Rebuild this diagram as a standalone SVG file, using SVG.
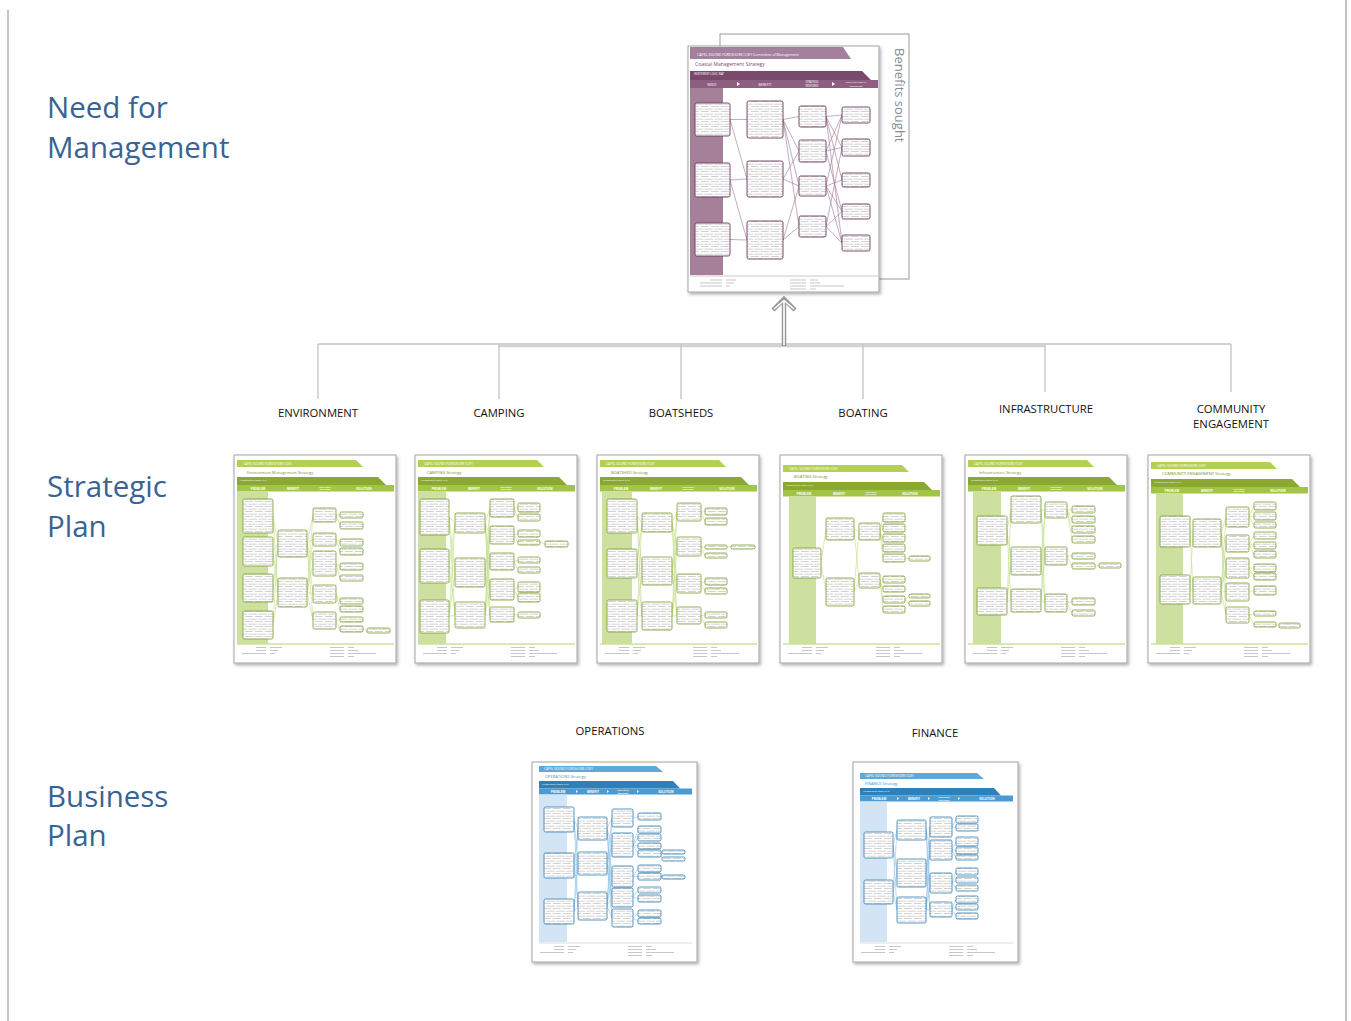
<svg xmlns="http://www.w3.org/2000/svg" width="1351" height="1021" viewBox="0 0 1351 1021">
<defs>
<style>
.sec{font-family:"Open Sans","Noto Sans",sans-serif;font-size:29.5px;fill:#386394}
.lbl{font-family:"Open Sans","Noto Sans",sans-serif;font-size:11.3px;fill:#111;text-anchor:middle}
.f{font-family:"Open Sans","Liberation Sans",sans-serif}
.pg{fill:#fff;stroke:#a3a3a3;stroke-width:1;filter:url(#sh)}
.th{font-size:3.2px;fill:#fff}
.tt{font-size:2.3px;fill:#fff}
.hd{font-size:3px;fill:#fff;font-weight:bold;text-anchor:middle}
.hs{font-size:2.2px;fill:#fff;font-weight:bold;text-anchor:middle}
.ft{fill:none;stroke:#a0a0a0;stroke-width:0.6}
.gb1{fill:#b3cf55}.gb2{fill:#8aa832}.gh{fill:#a2c545}.gc{fill:#cde0a0}
.gttl{font-size:4px;fill:#6f8f23}
.gbox rect{fill:url(#gk);stroke:#7c9c2c;stroke-width:0.8;rx:1.5px}
.gl{fill:none;stroke:#c3dd86;stroke-width:0.6}
.bb1{fill:#5ea9da}.bb2{fill:#2f7fb8}.bh{fill:#4a9bd2}.bc{fill:#d3e5f5}
.bttl{font-size:4px;fill:#3a8fcc}
.bbox rect{fill:url(#gk);stroke:#2f7db5;stroke-width:0.8;rx:1.5px}
.bl{fill:none;stroke:#93c6ea;stroke-width:0.6}
.pbox rect{fill:url(#gk);stroke:#6b3a5d;stroke-width:0.9;rx:1.8px}
.pl{fill:none;stroke:#9a7590;stroke-width:0.6}
</style>
<filter id="sh" x="-10%" y="-10%" width="130%" height="130%"><feDropShadow dx="1.5" dy="2" stdDeviation="1.5" flood-color="#000" flood-opacity="0.3"/></filter>
<pattern id="gk" width="10" height="5" patternUnits="userSpaceOnUse"><rect width="10" height="5" fill="#fff"/><rect x="0.8" y="1.3" width="8" height="0.6" fill="#b4b4b4"/><rect x="0" y="3.8" width="3.2" height="0.6" fill="#b4b4b4"/><rect x="4.3" y="3.8" width="5.7" height="0.6" fill="#b4b4b4"/></pattern>
<g id="hdrG" class="f">
<path class="gb1" d="M3 5H122L129 12H3Z"/>
<text class="th" x="9" y="10.3">CAPEL SOUND FORESHORE (CSF)</text>
<path class="gb2" d="M3 22H144L152 30H3Z"/>
<text class="tt" x="6" y="25.5">INVESTMENT LOGIC MAP</text>
<rect class="gh" x="3" y="30" width="157" height="6.5"/>
<text class="hd" x="24" y="34.6">PROBLEM</text>
<text class="hd" x="59" y="34.6">BENEFIT</text>
<text class="hs" x="91" y="32.6">STRATEGIC</text>
<text class="hs" x="91" y="35.4">RESPONSE</text>
<text class="hd" x="130" y="34.6">SOLUTION</text>
</g>
<g id="pageG">
<rect class="pg" x="0" y="0" width="162" height="208"/>
<line x1="3" y1="189" x2="160" y2="189" stroke="#a2c545" stroke-width="0.8"/>
<path class="ft" d="M22 192.5h10M36 192.5h12M22 195.5h10M36 195.5h8M8 198.5h24M36 198.5h5M96 192.5h14M114 192.5h6M96 195.5h14M114 195.5h10M96 198.5h14M114 198.5h28M96 201.5h14M114 201.5h6"/>
</g>
<g id="hdrB" class="f">
<path class="bb1" d="M7 4H124L131 10H7Z"/>
<text class="th" x="12" y="8.3">CAPEL SOUND FORESHORE (CSF)</text>
<path class="bb2" d="M7 19H141L148 26.5H7Z"/>
<text class="tt" x="10" y="22.5">INVESTMENT LOGIC MAP</text>
<rect class="bh" x="7" y="26.5" width="153" height="6"/>
<text class="hd" x="26" y="30.8">PROBLEM</text>
<text class="hd" x="61" y="30.8">BENEFIT</text>
<text class="hs" x="91" y="29">STRATEGIC</text>
<text class="hs" x="91" y="31.8">RESPONSE</text>
<text class="hd" x="134" y="30.8">SOLUTION</text>
<path fill="#fff" d="M44 28L46 29.5L44 31ZM75 28L77 29.5L75 31ZM105 28L107 29.5L105 31Z"/>
</g>
<g id="pageB">
<rect class="pg" x="0" y="0" width="165" height="200"/>
<line x1="7" y1="181" x2="160" y2="181" stroke="#c8c8c8" stroke-width="0.6"/>
<path class="ft" d="M22 184.5h10M36 184.5h12M22 187.5h10M36 187.5h8M8 190.5h24M36 190.5h5M96 184.5h14M114 184.5h6M96 187.5h14M114 187.5h10M96 190.5h14M114 190.5h28M96 193.5h14M114 193.5h6"/>
</g>
</defs>

<rect width="1351" height="1021" fill="#fff"/>
<line x1="8" y1="10" x2="8" y2="1021" stroke="#b0b0b0" stroke-width="1.5"/>
<line x1="1346" y1="0" x2="1346" y2="1021" stroke="#b0b0b0" stroke-width="1.5"/>

<g id="section-titles">
<text class="sec" x="47" y="118">Need for</text>
<text class="sec" x="47" y="158">Management</text>
<text class="sec" x="47" y="497">Strategic</text>
<text class="sec" x="47" y="537">Plan</text>
<text class="sec" x="47" y="807">Business</text>
<text class="sec" x="47" y="846">Plan</text>
</g>

<g id="connectors">
<line x1="318" y1="344" x2="1231" y2="344" stroke="#c4c4c4" stroke-width="1.3"/>
<line x1="499" y1="346" x2="1045" y2="346" stroke="#d2d2d2" stroke-width="2.5"/>
<path d="M318 344V399M499 344V399M681 344V399M863 344V399M1045 344V392M1231 344V392" stroke="#c4c4c4" stroke-width="1.3" fill="none"/>
<path d="M784 346V301M773 310L784 299L795 310" stroke="#999" stroke-width="4.5" fill="none"/>
<path d="M784 345V302M774 309L784 300.5L794 309" stroke="#fff" stroke-width="1.6" fill="none"/>
</g>

<g id="node-coastal">
<rect x="720" y="34" width="189" height="245" fill="#fff" stroke="#9a9a9a" stroke-width="1"/>
<text class="f" font-size="13" fill="#8a8a8a" transform="translate(895,48) rotate(90)">Benefits sought</text>
<rect class="pg" x="688" y="46" width="191" height="246"/>
<path fill="#a3809b" d="M690 47H843L851 59H690Z"/>
<text class="f" font-size="3.6" fill="#fff" x="697" y="55.5">CAPEL SOUND FORESHORE (CSF) Committee of Management</text>
<text class="f" font-size="5" fill="#7b4a6e" x="695" y="65.5">Coastal Management Strategy</text>
<path fill="#7a4a6c" d="M690 71H862L871 80H690Z"/>
<text class="f" font-size="2.6" fill="#fff" x="694" y="75">INVESTMENT LOGIC MAP</text>
<rect fill="#8d5e80" x="690" y="80" width="188" height="8"/>
<g class="f" fill="#fff" text-anchor="middle">
<text x="712" y="85.5" style="font-size:3.4px">NEED</text>
<text x="765" y="85.5" style="font-size:3.4px">BENEFIT</text>
<text x="812" y="83.3" style="font-size:2.6px">STRATEGIC</text>
<text x="812" y="86.6" style="font-size:2.6px">RESPONSE</text>
<text x="856" y="83.3" style="font-size:2.4px">ORGANISATIONAL</text>
<text x="856" y="86.6" style="font-size:2.4px">RESPONSES</text>
</g>
<path fill="#fff" d="M737 82L740 84L737 86ZM832 82L835 84L832 86Z"/>
<rect fill="#a58199" x="690" y="88" width="33" height="187"/>
<path class="pl" d="M730 119.5L747 119.5M730 119.5L747 179M730 180L747 179M730 180L747 240M730 239.5L747 240M783 119.5L799 116.5M783 119.5L799 151M783 119.5L799 186M783 119.5L799 226.5M783 179L799 151M783 179L799 186M783 240L799 186M783 240L799 226.5M826 116.5L842 115M826 116.5L842 147.5M826 116.5L842 180M826 116.5L842 243M826 151L842 115M826 151L842 147.5M826 151L842 211.5M826 186L842 115M826 186L842 180M826 186L842 211.5M826 186L842 243M826 226.5L842 147.5M826 226.5L842 211.5M826 226.5L842 243"/>
<g class="pbox">
<rect x="695" y="103" width="35" height="33"/><rect x="695" y="163" width="35" height="34"/><rect x="695" y="223" width="35" height="33"/>
<rect x="747" y="101" width="36" height="37"/><rect x="747" y="161" width="36" height="36"/><rect x="747" y="221" width="36" height="38"/>
<rect x="799" y="106" width="27" height="21"/><rect x="799" y="140" width="27" height="22"/><rect x="799" y="176" width="27" height="20"/><rect x="799" y="216" width="27" height="21"/>
<rect x="842" y="107" width="28" height="16"/><rect x="842" y="139" width="28" height="17"/><rect x="842" y="173" width="28" height="14"/><rect x="842" y="204" width="28" height="15"/><rect x="842" y="235" width="28" height="16"/>
</g>
<line x1="690" y1="276" x2="878" y2="276" stroke="#c9b5c4" stroke-width="0.8"/>
<path class="ft" d="M710 280h12M726 280h10M700 283h22M726 283h8M700 286h22M726 286h4M790 280h16M810 280h8M790 283h16M810 283h10M790 286h16M810 286h34M790 289h16M810 289h6"/>
</g>

<g id="labels">
<text class="lbl" x="318" y="417">ENVIRONMENT</text>
<text class="lbl" x="499" y="417">CAMPING</text>
<text class="lbl" x="681" y="417">BOATSHEDS</text>
<text class="lbl" x="863" y="417">BOATING</text>
<text class="lbl" x="1046" y="413">INFRASTRUCTURE</text>
<text class="lbl" x="1231" y="413">COMMUNITY</text>
<text class="lbl" x="1231" y="428">ENGAGEMENT</text>
<text class="lbl" x="610" y="735">OPERATIONS</text>
<text class="lbl" x="935" y="737">FINANCE</text>
</g>

<g id="node-environment" transform="translate(234,455)">
<use href="#pageG"/><use href="#hdrG"/>
<text class="f gttl" x="13" y="18.5">Environment Management Strategy</text>
<rect class="gc" x="3" y="36.5" width="31" height="152.5"/>
<path class="gl" d="M39 61L44 88.5M39 61L44 137.5M39 96.5L44 88.5M39 96.5L44 137.5M39 133L44 88.5M39 133L44 137.5M39 170L44 88.5M39 170L44 137.5M73 88.5L79 60M73 88.5L79 84.5M73 88.5L79 108.5M73 88.5L79 139M73 88.5L79 165.5M73 137.5L79 60M73 137.5L79 84.5M73 137.5L79 108.5M73 137.5L79 139M73 137.5L79 165.5M102 60L106 60M102 60L106 70.5M102 84.5L106 87.5M102 84.5L106 96.5M102 108.5L106 111.5M102 108.5L106 123M102 139L106 146M102 139L106 154M102 165.5L106 164.5M102 165.5L106 174M129 174L133 175.5"/>
<g class="gbox">
<rect x="9" y="44" width="30" height="34"/><rect x="9" y="82" width="30" height="29"/><rect x="9" y="119" width="30" height="28"/><rect x="9" y="156" width="30" height="28"/>
<rect x="44" y="75" width="29" height="27"/><rect x="44" y="123" width="29" height="29"/>
<rect x="79" y="53" width="23" height="14"/><rect x="79" y="78" width="23" height="13"/><rect x="79" y="96" width="23" height="25"/><rect x="79" y="130" width="23" height="18"/><rect x="79" y="157" width="23" height="17"/>
<rect x="106" y="57" width="23" height="6"/><rect x="106" y="67" width="23" height="7"/><rect x="106" y="84" width="23" height="7"/><rect x="106" y="93" width="23" height="7"/><rect x="106" y="108" width="23" height="7"/><rect x="106" y="120" width="23" height="6"/><rect x="106" y="143" width="23" height="6"/><rect x="106" y="151" width="23" height="6"/><rect x="106" y="162" width="23" height="5"/><rect x="106" y="171" width="23" height="6"/>
<rect x="133" y="173" width="23" height="5"/>
</g>
</g>

<g id="node-camping" transform="translate(415,455)">
<use href="#pageG"/><use href="#hdrG"/>
<text class="f gttl" x="12" y="18.5">CAMPING Strategy</text>
<rect class="gc" x="3" y="36.5" width="28" height="152.5"/>
<path class="gl" d="M34 62L40 68M34 62L40 117.5M34 62L40 160M34 111L40 68M34 111L40 117.5M34 111L40 160M34 161.5L40 68M34 161.5L40 117.5M34 161.5L40 160M70 68L75 53M70 68L75 80M70 68L75 106.5M70 68L75 134.5M70 68L75 159.5M70 117.5L75 53M70 117.5L75 80M70 117.5L75 106.5M70 117.5L75 134.5M70 117.5L75 159.5M70 160L75 53M70 160L75 80M70 160L75 106.5M70 160L75 134.5M70 160L75 159.5M99 53L103 52.5M99 53L103 62.5M99 80L103 78.5M99 80L103 87.5M99 106.5L103 105M99 106.5L103 115M99 134.5L103 132M99 134.5L103 142.5M99 159.5L103 160M125 87.5L130 89"/>
<g class="gbox">
<rect x="5" y="44" width="29" height="36"/><rect x="5" y="94" width="29" height="34"/><rect x="5" y="145" width="29" height="33"/>
<rect x="40" y="58" width="30" height="20"/><rect x="40" y="103" width="30" height="29"/><rect x="40" y="147" width="30" height="26"/>
<rect x="75" y="44" width="24" height="18"/><rect x="75" y="71" width="24" height="18"/><rect x="75" y="98" width="24" height="17"/><rect x="75" y="124" width="24" height="21"/><rect x="75" y="152" width="24" height="15"/>
<rect x="103" y="48" width="22" height="9"/><rect x="103" y="59" width="22" height="7"/><rect x="103" y="75" width="22" height="7"/><rect x="103" y="85" width="22" height="5"/><rect x="103" y="102" width="22" height="6"/><rect x="103" y="112" width="22" height="6"/><rect x="103" y="127" width="22" height="10"/><rect x="103" y="138" width="22" height="9"/><rect x="103" y="157" width="22" height="6"/>
<rect x="130" y="86" width="23" height="6"/>
</g>
</g>

<g id="node-boatsheds" transform="translate(597,455)">
<use href="#pageG"/><use href="#hdrG"/>
<text class="f gttl" x="14" y="18.5">BOATSHED Strategy</text>
<rect class="gc" x="5" y="36.5" width="30" height="152.5"/>
<path class="gl" d="M40 61L45 67.5M40 61L45 116M40 61L45 161M40 108.5L45 67.5M40 108.5L45 116M40 108.5L45 161M40 161L45 67.5M40 161L45 116M40 161L45 161M75 67.5L80 57M75 67.5L80 91.5M75 67.5L80 128.5M75 67.5L80 160.5M75 116L80 57M75 116L80 91.5M75 116L80 128.5M75 116L80 160.5M75 161L80 57M75 161L80 91.5M75 161L80 128.5M75 161L80 160.5M104 57L108 56.5M104 57L108 66.5M104 91.5L108 92M104 91.5L108 100.5M104 128.5L108 126.5M104 128.5L108 136M104 160.5L108 160M104 160.5L108 170M130 92L134 92"/>
<g class="gbox">
<rect x="10" y="44" width="30" height="34"/><rect x="10" y="94" width="30" height="29"/><rect x="10" y="145" width="30" height="32"/>
<rect x="45" y="58" width="30" height="19"/><rect x="45" y="102" width="30" height="28"/><rect x="45" y="147" width="30" height="28"/>
<rect x="80" y="48" width="24" height="18"/><rect x="80" y="82" width="24" height="19"/><rect x="80" y="119" width="24" height="19"/><rect x="80" y="152" width="24" height="17"/>
<rect x="108" y="53" width="22" height="7"/><rect x="108" y="63" width="22" height="7"/><rect x="108" y="90" width="22" height="4"/><rect x="108" y="98" width="22" height="5"/><rect x="108" y="123" width="22" height="7"/><rect x="108" y="133" width="22" height="6"/><rect x="108" y="157" width="22" height="6"/><rect x="108" y="167" width="22" height="6"/>
<rect x="134" y="90" width="24" height="4"/>
</g>
</g>

<g id="node-boating" transform="translate(780,455)">
<use href="#pageG"/><use href="#hdrG" y="5"/>
<text class="f gttl" x="14" y="23">BOATING Strategy</text>
<rect class="gc" x="9" y="41.5" width="27" height="147.5"/>
<path class="gl" d="M41 108L46 74M41 108L46 137M74 74L79 76.5M74 74L79 125.5M74 137L79 76.5M74 137L79 125.5M100 76.5L103 62.5M100 76.5L103 73M100 76.5L103 83M100 76.5L103 93M100 76.5L103 103M100 125.5L103 124.5M100 125.5L103 134M100 125.5L103 144.5M100 125.5L103 154.5M125 103L129 103.5M125 144.5L129 141M125 144.5L129 148.5"/>
<g class="gbox">
<rect x="13" y="93" width="28" height="30"/>
<rect x="46" y="63" width="28" height="22"/><rect x="46" y="123" width="28" height="28"/>
<rect x="79" y="68" width="21" height="17"/><rect x="79" y="118" width="21" height="15"/>
<rect x="103" y="58" width="22" height="9"/><rect x="103" y="69" width="22" height="8"/><rect x="103" y="79" width="22" height="8"/><rect x="103" y="89" width="22" height="8"/><rect x="103" y="99" width="22" height="8"/><rect x="103" y="121" width="22" height="7"/><rect x="103" y="131" width="22" height="6"/><rect x="103" y="141" width="22" height="7"/><rect x="103" y="151" width="22" height="7"/>
<rect x="129" y="101" width="21" height="5"/><rect x="129" y="139" width="21" height="4"/><rect x="129" y="146" width="21" height="5"/>
</g>
</g>

<g id="node-infrastructure" transform="translate(965,455)">
<use href="#pageG"/><use href="#hdrG"/>
<text class="f gttl" x="14" y="18.5">Infrastructure Strategy</text>
<rect class="gc" x="8" y="36.5" width="28" height="152.5"/>
<path class="gl" d="M42 75.5L46 54.5M42 75.5L46 106M42 75.5L46 145.5M42 146.5L46 54.5M42 146.5L46 106M42 146.5L46 145.5M76 54.5L80 55M76 54.5L80 101M76 54.5L80 148M76 106L80 55M76 106L80 101M76 106L80 148M76 145.5L80 55M76 145.5L80 101M76 145.5L80 148M102 55L107 54.5M102 55L107 64.5M102 55L107 74.5M102 55L107 84.5M102 101L107 101M102 101L107 111M102 148L107 146.5M102 148L107 158M130 111L134 110.5"/>
<g class="gbox">
<rect x="12" y="61" width="30" height="29"/><rect x="12" y="133" width="30" height="27"/>
<rect x="46" y="41" width="30" height="27"/><rect x="46" y="92" width="30" height="28"/><rect x="46" y="134" width="30" height="23"/>
<rect x="80" y="47" width="22" height="16"/><rect x="80" y="92" width="22" height="18"/><rect x="80" y="139" width="22" height="18"/>
<rect x="107" y="51" width="23" height="7"/><rect x="107" y="61" width="23" height="7"/><rect x="107" y="71" width="23" height="7"/><rect x="107" y="81" width="23" height="7"/><rect x="107" y="98" width="23" height="6"/><rect x="107" y="108" width="23" height="6"/><rect x="107" y="143" width="23" height="7"/><rect x="107" y="155" width="23" height="6"/>
<rect x="134" y="108" width="22" height="5"/>
</g>
</g>

<g id="node-community" transform="translate(1148,455)">
<use href="#pageG"/><use href="#hdrG" y="2"/>
<text class="f gttl" x="14" y="20">COMMUNITY ENGAGEMENT Strategy</text>
<rect class="gc" x="8" y="38.5" width="27" height="150.5"/>
<path class="gl" d="M42 76.5L45 78M42 76.5L45 135.5M42 134.5L45 78M42 134.5L45 135.5M73 78L78 62M73 78L78 88.5M73 78L78 113M73 78L78 137M73 78L78 160M73 135.5L78 62M73 135.5L78 88.5M73 135.5L78 113M73 135.5L78 137M73 135.5L78 160M101 62L106 51M101 62L106 61M101 62L106 70M101 88.5L106 80.5M101 88.5L106 90.5M101 88.5L106 99.5M101 113L106 113M101 113L106 121.5M101 137L106 135.5M101 160L106 158.5M101 160L106 169.5M128 169.5L131 170.5"/>
<g class="gbox">
<rect x="12" y="61" width="30" height="31"/><rect x="12" y="120" width="30" height="29"/>
<rect x="45" y="64" width="28" height="28"/><rect x="45" y="122" width="28" height="27"/>
<rect x="78" y="52" width="23" height="20"/><rect x="78" y="80" width="23" height="17"/><rect x="78" y="103" width="23" height="20"/><rect x="78" y="128" width="23" height="18"/><rect x="78" y="152" width="23" height="16"/>
<rect x="106" y="47" width="22" height="8"/><rect x="106" y="57" width="22" height="8"/><rect x="106" y="67" width="22" height="6"/><rect x="106" y="77" width="22" height="7"/><rect x="106" y="87" width="22" height="7"/><rect x="106" y="96" width="22" height="7"/><rect x="106" y="109" width="22" height="8"/><rect x="106" y="118" width="22" height="7"/><rect x="106" y="131" width="22" height="9"/><rect x="106" y="156" width="22" height="5"/><rect x="106" y="167" width="22" height="5"/>
<rect x="131" y="168" width="21" height="5"/>
</g>
</g>

<g id="node-operations" transform="translate(532,762)">
<use href="#pageB"/><use href="#hdrB"/>
<text class="f bttl" x="13" y="15.5">OPERATIONS Strategy</text>
<rect class="bc" x="7" y="32.5" width="28" height="147.5"/>
<path class="bl" d="M42 57.5L46 66.5M42 57.5L46 101.5M42 57.5L46 144M42 103.5L46 66.5M42 103.5L46 101.5M42 103.5L46 144M42 149.5L46 66.5M42 149.5L46 101.5M42 149.5L46 144M75 66.5L80 56M75 66.5L80 83M75 66.5L80 114.5M75 66.5L80 135.5M75 66.5L80 156M75 101.5L80 56M75 101.5L80 83M75 101.5L80 114.5M75 101.5L80 135.5M75 101.5L80 156M75 144L80 56M75 144L80 83M75 144L80 114.5M75 144L80 135.5M75 144L80 156M101 56L106 54.5M101 83L106 67.5M101 83L106 75.5M101 83L106 84M101 83L106 91.5M101 114.5L106 106.5M101 114.5L106 114.5M101 135.5L106 128M101 135.5L106 136.5M101 156L106 151.5M101 156L106 159M129 91.5L130 90M129 91.5L130 97M129 114.5L130 115"/>
<g class="bbox">
<rect x="12" y="45" width="30" height="25"/><rect x="12" y="91" width="30" height="25"/><rect x="12" y="137" width="30" height="25"/>
<rect x="46" y="55" width="29" height="23"/><rect x="46" y="90" width="29" height="23"/><rect x="46" y="130" width="29" height="28"/>
<rect x="80" y="47" width="21" height="18"/><rect x="80" y="71" width="21" height="24"/><rect x="80" y="104" width="21" height="21"/><rect x="80" y="126" width="21" height="19"/><rect x="80" y="147" width="21" height="18"/>
<rect x="106" y="51" width="23" height="7"/><rect x="106" y="64" width="23" height="7"/><rect x="106" y="72" width="23" height="7"/><rect x="106" y="81" width="23" height="6"/><rect x="106" y="88" width="23" height="7"/><rect x="106" y="103" width="23" height="7"/><rect x="106" y="111" width="23" height="7"/><rect x="106" y="125" width="23" height="6"/><rect x="106" y="133" width="23" height="7"/><rect x="106" y="148" width="23" height="7"/><rect x="106" y="156" width="23" height="6"/>
<rect x="130" y="88" width="23" height="4"/><rect x="130" y="95" width="23" height="4"/><rect x="130" y="113" width="23" height="4"/>
</g>
</g>

<g id="node-finance" transform="translate(853,762)">
<use href="#pageB"/><use href="#hdrB" y="7"/>
<text class="f bttl" x="12" y="22.5">FINANCE Strategy</text>
<rect class="bc" x="7" y="39.5" width="27" height="140.5"/>
<path class="bl" d="M40 83L44 68M40 83L44 111M40 83L44 148M40 130L44 68M40 130L44 111M40 130L44 148M73 68L77 65M73 68L77 88M73 68L77 121M73 68L77 147.5M73 111L77 65M73 111L77 88M73 111L77 121M73 111L77 147.5M73 148L77 65M73 148L77 88M73 148L77 121M73 148L77 147.5M99 65L103 57.5M99 65L103 65.5M99 88L103 79.5M99 88L103 88.5M99 88L103 95.5M99 121L103 109.5M99 121L103 118M99 121L103 126M99 147.5L103 137.5M99 147.5L103 145M99 147.5L103 154"/>
<g class="bbox">
<rect x="11" y="70" width="29" height="26"/><rect x="11" y="118" width="29" height="24"/>
<rect x="44" y="58" width="29" height="20"/><rect x="44" y="97" width="29" height="28"/><rect x="44" y="135" width="29" height="26"/>
<rect x="77" y="55" width="22" height="20"/><rect x="77" y="78" width="22" height="20"/><rect x="77" y="111" width="22" height="20"/><rect x="77" y="140" width="22" height="15"/>
<rect x="103" y="54" width="22" height="7"/><rect x="103" y="62" width="22" height="7"/><rect x="103" y="75" width="22" height="9"/><rect x="103" y="85" width="22" height="7"/><rect x="103" y="93" width="22" height="5"/><rect x="103" y="106" width="22" height="7"/><rect x="103" y="115" width="22" height="6"/><rect x="103" y="123" width="22" height="6"/><rect x="103" y="134" width="22" height="7"/><rect x="103" y="142" width="22" height="6"/><rect x="103" y="151" width="22" height="6"/>
</g>
</g>
</svg>
